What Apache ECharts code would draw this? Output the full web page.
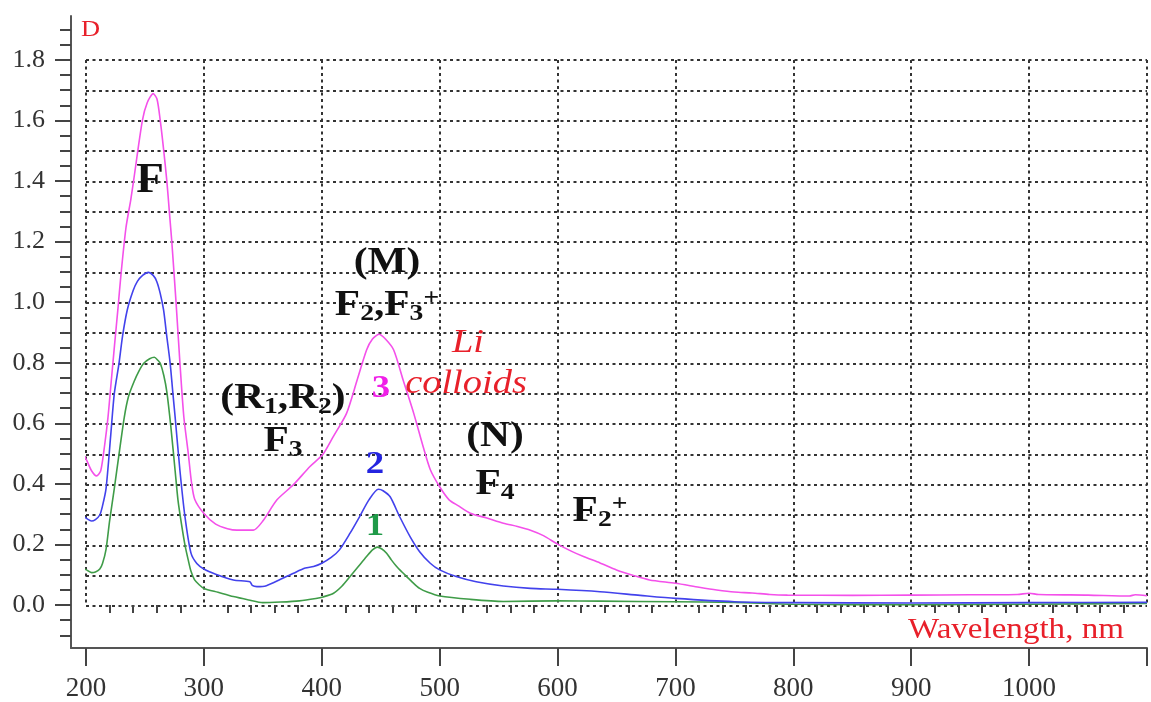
<!DOCTYPE html>
<html>
<head>
<meta charset="utf-8">
<script src="https://cdn.jsdelivr.net/npm/echarts@6/dist/echarts.min.js"></script>
<style>
  html, body { margin: 0; padding: 0; background: #fff; }
  #chart { width: 1151px; height: 702px; }
</style>
</head>
<body>
<div id="chart"></div>
<script>
// curve 1 (green)
const wl1 = [195.8, 200, 204.7, 208, 211.7, 214, 217, 220, 224, 228, 232.5, 236, 240.8, 245, 249, 254, 258, 261, 263, 266, 268.6, 272, 275.6, 278, 281, 284, 286.7, 289, 292, 296, 300, 312, 325, 338, 350, 365, 381, 395, 401, 410, 417, 424, 431, 438, 443, 447, 451, 455, 459, 463.5, 468, 472, 477, 483, 490, 500, 526, 554, 600, 636, 700, 750, 800, 900, 1000, 1100]
const d1 = [0.128, 0.12, 0.11, 0.112, 0.122, 0.14, 0.187, 0.28, 0.387, 0.5, 0.623, 0.69, 0.74, 0.775, 0.8, 0.815, 0.82, 0.81, 0.8, 0.76, 0.705, 0.59, 0.446, 0.35, 0.27, 0.2, 0.152, 0.115, 0.087, 0.07, 0.058, 0.045, 0.031, 0.02, 0.011, 0.013, 0.017, 0.025, 0.03, 0.042, 0.065, 0.097, 0.13, 0.163, 0.185, 0.194, 0.188, 0.174, 0.152, 0.13, 0.112, 0.097, 0.078, 0.058, 0.045, 0.033, 0.022, 0.015, 0.017, 0.016, 0.014, 0.012, 0.006, 0.004, 0.006, 0.008]

// curve 2 (blue)
const wl2 = [195.8, 200, 204.7, 208, 211.7, 214, 217, 221, 224, 228, 231, 235, 240, 243.6, 248, 253, 257, 260, 263, 265.8, 268.5, 271.4, 273.5, 275.6, 279.7, 284, 289, 294, 300, 310, 325, 339, 341, 345, 353, 365, 376, 386, 393, 400, 408, 415, 424, 432, 440, 448, 452, 458, 466, 475, 483, 492, 500, 514, 531, 554, 577, 600, 636, 670, 700, 750, 800, 900, 1000, 1100]
const d2 = [0.305, 0.29, 0.28, 0.285, 0.3, 0.33, 0.387, 0.564, 0.7, 0.8, 0.89, 0.976, 1.04, 1.07, 1.09, 1.1, 1.09, 1.07, 1.03, 0.976, 0.89, 0.8, 0.71, 0.623, 0.446, 0.293, 0.175, 0.14, 0.122, 0.105, 0.086, 0.08, 0.068, 0.064, 0.067, 0.088, 0.108, 0.125, 0.13, 0.141, 0.16, 0.185, 0.24, 0.294, 0.35, 0.385, 0.38, 0.36, 0.295, 0.228, 0.179, 0.141, 0.119, 0.097, 0.08, 0.066, 0.058, 0.055, 0.047, 0.035, 0.025, 0.014, 0.011, 0.01, 0.011, 0.012]

// curve 3 (magenta)
const wl3 = [195.8, 200.6, 204.7, 208.9, 212.5, 215.8, 218.6, 221.4, 224.2, 227, 229.7, 233.9, 238, 240.3, 247.8, 252, 257, 260.3, 263, 265.8, 268.6, 270.8, 272.8, 276.4, 279.7, 283, 286.7, 289.4, 292.2, 300, 310, 320, 328, 335, 342, 350, 362, 376, 390, 401, 410, 421, 430, 438, 443, 448.5, 454, 461, 469, 478, 486, 492, 500, 508, 516, 526, 540, 554, 566, 577, 588, 600, 612, 622, 636, 650, 665, 678, 700, 720, 735, 750, 765, 780, 795, 850, 900, 950, 990, 1000, 1008, 1050, 1085, 1090, 1100]
const d3 = [0.517, 0.48, 0.446, 0.429, 0.446, 0.53, 0.62, 0.74, 0.86, 0.976, 1.094, 1.247, 1.34, 1.4, 1.6, 1.66, 1.689, 1.67, 1.6, 1.506, 1.4, 1.295, 1.2, 1.0, 0.8, 0.623, 0.505, 0.41, 0.352, 0.305, 0.27, 0.255, 0.25, 0.25, 0.25, 0.28, 0.35, 0.4, 0.46, 0.5, 0.56, 0.635, 0.745, 0.844, 0.88, 0.896, 0.88, 0.844, 0.745, 0.635, 0.525, 0.45, 0.393, 0.35, 0.33, 0.306, 0.29, 0.273, 0.262, 0.25, 0.232, 0.204, 0.18, 0.163, 0.142, 0.119, 0.1, 0.086, 0.075, 0.062, 0.053, 0.046, 0.043, 0.038, 0.036, 0.035, 0.036, 0.037, 0.038, 0.042, 0.038, 0.036, 0.033, 0.037, 0.034]

// tick labels
const xTickLabels = [200, 300, 400, 500, 600, 700, 800, 900, 1000]
const yTickLabels = [0.0, 0.2, 0.4, 0.6, 0.8, 1.0, 1.2, 1.4, 1.6, 1.8]

const xMajor = [200, 300, 400, 500, 600, 700, 800, 900, 1000, 1100]
const xMinor = []
for (let v = 200; v <= 1100; v += 20) if (v % 100 !== 0) xMinor.push(v)
const yMinor = []
for (let i = -2; i <= 38; i++) if (i % 4 !== 0) yMinor.push(+(i * 0.05).toFixed(2))

const SERIF = '"Liberation Serif", "Times New Roman", serif'
const AXIS_COLOR = '#555'
const RED = '#e8202a'
const INK = '#111'

const pairs = (xs, ys) => xs.map((x, i) => [x, ys[i]])

// the source figure is a bit stretched sideways, so text gets scaleX
const SX = 1.15

function label(x, y, text, opts = {}) {
  return {
    type: 'text', x, y, scaleX: opts.scaleX ?? SX, z: 10,
    style: {
      text,
      fontFamily: SERIF,
      fontSize: opts.size ?? 36,
      fontWeight: opts.weight ?? 'bold',
      fontStyle: opts.style ?? 'normal',
      fill: opts.color ?? INK,
      align: opts.align ?? 'center',
      verticalAlign: 'middle',
      rich: opts.rich,
    },
  }
}

// rich styles for subscript / superscript labels
const RICH = {
  b: { fontFamily: SERIF, fontSize: 36, fontWeight: 'bold', fill: INK, lineHeight: 40, verticalAlign: 'middle' },
  s: { fontFamily: SERIF, fontSize: 24, fontWeight: 'bold', fill: INK, lineHeight: 12, verticalAlign: 'bottom' },
  p: { fontFamily: SERIF, fontSize: 24, fontWeight: 'bold', fill: INK, lineHeight: 16, verticalAlign: 'top' },
}

const chart = echarts.init(document.getElementById('chart'))

const outerX = { min: 187.3, max: 1100 }
const outerY = { min: -0.1418, max: 1.945 }
const gridLine = { show: true, showMinLine: true, showMaxLine: true, lineStyle: { color: '#333', width: 2, type: [3, 3.5] } }

chart.setOption({
  animation: false,
  backgroundColor: '#fff',
  grid: [
    { left: 71, right: 4, top: 16, bottom: 53 },
    { left: 86, right: 4, top: 60, bottom: 96 },
  ],
  xAxis: [
    {
      gridIndex: 0, type: 'value', position: 'bottom', ...outerX,
      axisLine: { show: true, onZero: false, lineStyle: { color: AXIS_COLOR, width: 2 } },
      axisTick: { show: true, customValues: xMajor, length: 18, lineStyle: { color: '#444', width: 2 } },
      axisLabel: {
        customValues: xTickLabels, margin: 27, fontSize: 27, fontFamily: SERIF, color: '#333',
        formatter: (v) => String(v),
      },
      splitLine: { show: false },
    },
    {
      gridIndex: 0, type: 'value', position: 'bottom', ...outerX,
      axisLine: { show: false },
      axisTick: { show: true, customValues: xMinor, length: 8, lineStyle: { color: '#444', width: 2 } },
      axisLabel: { show: false },
      splitLine: { show: false },
    },
    {
      gridIndex: 1, type: 'value', min: 200, max: 1100, interval: 100,
      axisLine: { show: false }, axisTick: { show: false }, axisLabel: { show: false },
      splitLine: gridLine,
    },
  ],
  yAxis: [
    {
      gridIndex: 0, type: 'value', position: 'left', ...outerY,
      axisLine: { show: true, onZero: false, lineStyle: { color: AXIS_COLOR, width: 2 } },
      axisTick: { show: true, customValues: yTickLabels, length: 16, lineStyle: { color: '#444', width: 2 } },
      axisLabel: {
        customValues: yTickLabels, margin: 26, fontSize: 26, fontFamily: SERIF, color: '#333',
        formatter: (v) => v.toFixed(1),
      },
      splitLine: { show: false },
    },
    {
      gridIndex: 0, type: 'value', position: 'left', ...outerY,
      axisLine: { show: false },
      axisTick: { show: true, customValues: yMinor, length: 11, lineStyle: { color: '#444', width: 2 } },
      axisLabel: { show: false },
      splitLine: { show: false },
    },
    {
      gridIndex: 1, type: 'value', min: 0, max: 1.8, interval: 0.1,
      axisLine: { show: false }, axisTick: { show: false }, axisLabel: { show: false },
      splitLine: gridLine,
    },
  ],
  series: [
    { name: '1', data: pairs(wl1, d1), color: '#3f9c48' },
    { name: '2', data: pairs(wl2, d2), color: '#4242ec' },
    { name: '3', data: pairs(wl3, d3), color: '#f450ea' },
  ].map((s) => ({
    ...s,
    type: 'line',
    xAxisIndex: 2,
    yAxisIndex: 2,
    clip: false,
    smooth: 0.25,
    showSymbol: false,
    lineStyle: { width: 1.6, color: s.color },
    z: 5,
  })),
  graphic: [
    label(81, 30, 'D', { size: 24, weight: 'normal', color: RED, align: 'left', scaleX: 1.1 }),
    label(1016, 630, 'Wavelength, nm', { size: 29, weight: 'normal', color: RED, scaleX: 1.14 }),
    label(150, 181, 'F', { size: 43, scaleX: 1.05 }),
    label(387, 263, '(M)'),
    label(387, 306, '{b|F}{s|2}{b|,F}{s|3}{p|+}', { rich: RICH }),
    label(468, 343, 'Li', { size: 34, weight: 'normal', style: 'italic', color: RED, scaleX: 1.13 }),
    label(466, 384, 'colloids', { size: 34, weight: 'normal', style: 'italic', color: RED, scaleX: 1.13 }),
    label(381, 389, '3', { size: 32, color: '#f020e8' }),
    label(283, 399, '{b|(R}{s|1}{b|,R}{s|2}{b|)}', { rich: RICH }),
    label(283, 442, '{b|F}{s|3}', { rich: RICH }),
    label(375, 465, '2', { size: 32, color: '#2424e0' }),
    label(495, 437, '(N)'),
    label(495, 485, '{b|F}{s|4}', { rich: RICH }),
    label(600, 512, '{b|F}{s|2}{p|+}', { rich: RICH }),
    label(375, 527, '1', { size: 32, color: '#1f9a48' }),
  ],
})
</script>
</body>
</html>
